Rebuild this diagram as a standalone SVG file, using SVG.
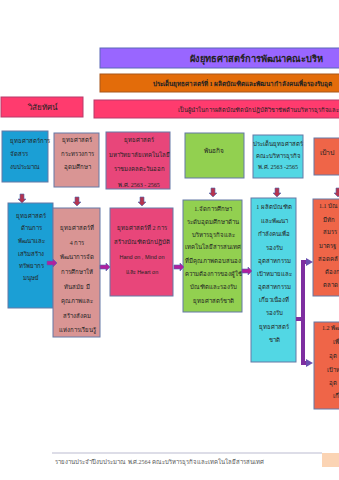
<svg xmlns="http://www.w3.org/2000/svg" width="339" height="480" viewBox="0 0 339 480">
<style>
.bx{stroke:#6478A6;stroke-width:1}
.t{font-family:"Liberation Serif","Noto Sans",serif;font-size:6px;fill:#222;text-anchor:middle}
.ts{font-family:"Liberation Serif","Noto Sans",serif;font-size:6px;fill:#222}
.dn{fill:#B5344F;stroke:#4F69B0;stroke-width:0.6}
.rt{fill:#B0209F;stroke:#4F69B0;stroke-width:0.6}
.conn{fill:none;stroke:#7E2EA0;stroke-width:4}
</style>
<defs>
<path id="da" d="M-2,0H2V5H4L0,9L-4,5H-2Z"/>
<path id="ra" d="M0,-2H6V-4L10,0L6,4V2H0Z"/>
<clipPath id="c3"><rect x="106" y="132" width="64" height="57"/></clipPath>
</defs>
<rect width="339" height="480" fill="#fff"/>

<g id="title">
<rect x="100" y="48" width="245" height="20" fill="#9966FF" stroke="#5A68B8" stroke-width="1"/>
<text class="ts" x="190" y="62" style="font-size:9.3px;font-weight:bold">ผังยุทธศาสตร์การพัฒนาคณะบริห</text>
</g>
<g id="issue">
<rect x="100" y="74" width="245" height="18" fill="#E36C0A" stroke="#A8561A" stroke-width="1"/>
<text class="ts" x="153" y="86" style="font-size:6.3px;font-weight:bold">ประเด็นยุทธศาสตร์ที่ 1  ผลิตบัณฑิตและพัฒนากำลังคนเพื่อรองรับอุต</text>
</g>
<g id="vision-label">
<rect x="1" y="97" width="82" height="20" fill="#FF3B6E" stroke="#B83A6A" stroke-width="1"/>
<text class="t" x="42" y="110" style="font-size:8px">วิสัยทัศน์</text>
</g>
<g id="vision">
<rect x="94" y="100" width="250" height="18" fill="#FF3B6E" stroke="#B83A6A" stroke-width="1"/>
<text class="ts" x="178" y="112" style="font-size:5.8px">เป็นผู้นำในการผลิตบัณฑิตนักปฏิบัติวิชาชีพด้านบริหารธุรกิจและ</text>
</g>

<g id="budget">
<rect class="bx" x="2" y="131" width="46" height="51" fill="#1B9FD5"/>
<text class="ts" x="10" y="143">ยุทธศาสตร์การ</text>
<text class="ts" x="10" y="156">จัดสรร</text>
<text class="ts" x="10" y="169">งบประมาณ</text>
</g>
<g id="ministry">
<rect class="bx" x="54" y="133" width="45" height="54" fill="#D99594"/>
<text class="t" x="77" y="142">ยุทธศาสตร์</text>
<text class="t" x="77" y="156">กระทรวงการ</text>
<text class="t" x="77" y="169">อุดมศึกษา</text>
</g>
<g id="university">
<rect class="bx" x="106" y="132" width="64" height="57" fill="#E8467A"/>
<g clip-path="url(#c3)">
<text class="t" x="139" y="142">ยุทธศาสตร์</text>
<text class="t" x="139" y="157">มหาวิทยาลัยเทคโนโลยี</text>
<text class="t" x="139" y="171">ราชมงคลตะวันออก</text>
<text class="t" x="139" y="187">พ.ศ. 2563 - 2565</text>
</g>
</g>
<g id="mission">
<rect class="bx" x="185" y="133" width="59" height="45" fill="#92D050"/>
<text class="t" x="214" y="153" style="font-size:6.5px">พันธกิจ</text>
</g>
<g id="faculty-issue">
<rect class="bx" x="253" y="135" width="50" height="43" fill="#52D7E4"/>
<text class="t" x="278" y="146">ประเด็นยุทธศาสตร์</text>
<text class="t" x="278" y="158">คณะบริหารธุรกิจ</text>
<text class="t" x="278" y="169">พ.ศ. 2563 -2565</text>
</g>
<g id="goal">
<rect class="bx" x="314" y="138" width="40" height="37" fill="#EF6548"/>
<text class="ts" x="320" y="155" style="font-size:7px">เป้าป</text>
</g>

<g id="hr">
<rect class="bx" x="8" y="203" width="45" height="105" fill="#1B9FD5"/>
<text class="t" x="31" y="218">ยุทธศาสตร์</text>
<text class="t" x="31" y="230">ด้านการ</text>
<text class="t" x="31" y="243">พัฒนาและ</text>
<text class="t" x="31" y="256">เสริมสร้าง</text>
<text class="t" x="31" y="268">ทรัพยากร</text>
<text class="t" x="31" y="280">มนุษย์</text>
</g>
<g id="strategy4">
<rect class="bx" x="53" y="208" width="47" height="129" fill="#D99594"/>
<text class="t" x="77" y="230">ยุทธศาสตร์ที่</text>
<text class="t" x="77" y="245">4 การ</text>
<text class="t" x="77" y="259">พัฒนาการจัด</text>
<text class="t" x="77" y="274">การศึกษาให้</text>
<text class="t" x="77" y="289">ทันสมัย มี</text>
<text class="t" x="77" y="303">คุณภาพและ</text>
<text class="t" x="77" y="318">สร้างสังคม</text>
<text class="t" x="77" y="332">แห่งการเรียนรู้</text>
</g>
<g id="strategy2">
<rect class="bx" x="110" y="208" width="63" height="88" fill="#E8467A"/>
<text class="t" x="142" y="230">ยุทธศาสตร์ที่ 2 การ</text>
<text class="t" x="142" y="244">สร้างบัณฑิตนักปฏิบัติ</text>
<text class="t" x="142" y="259" style="font-family:'Liberation Sans',sans-serif;font-size:5.5px">Hand on , Mind on</text>
<text class="t" x="142" y="274" style="font-size:5.5px">และ  <tspan style="font-family:'Liberation Sans',sans-serif">Heart on</tspan></text>
</g>
<g id="mission1">
<rect class="bx" x="183" y="200" width="59" height="112" fill="#92D050"/>
<text class="t" x="213" y="211">1.จัดการศึกษา</text>
<text class="t" x="213" y="224">ระดับอุดมศึกษาด้าน</text>
<text class="t" x="213" y="237">บริหารธุรกิจและ</text>
<text class="t" x="213" y="249">เทคโนโลยีสารสนเทศ</text>
<text class="t" x="213" y="263">ที่มีคุณภาพตอบสนอง</text>
<text class="t" x="213" y="276">ความต้องการของผู้ใช้</text>
<text class="t" x="213" y="289">บัณฑิตและรองรับ</text>
<text class="t" x="213" y="303">ยุทธศาสตร์ชาติ</text>
</g>
<g id="issue1">
<rect class="bx" x="251" y="198" width="45" height="164" fill="#52D7E4"/>
<text class="t" x="274" y="209">1  ผลิตบัณฑิต</text>
<text class="t" x="274" y="223">และพัฒนา</text>
<text class="t" x="274" y="236">กำลังคนเพื่อ</text>
<text class="t" x="274" y="250">รองรับ</text>
<text class="t" x="274" y="263">อุตสาหกรรม</text>
<text class="t" x="274" y="276">เป้าหมายและ</text>
<text class="t" x="274" y="289">อุตสาหกรรม</text>
<text class="t" x="274" y="302">เกี่ยวเนื่องที่</text>
<text class="t" x="274" y="315">รองรับ</text>
<text class="t" x="274" y="329">ยุทธศาสตร์</text>
<text class="t" x="274" y="342">ชาติ</text>
</g>
<g id="goal1-1">
<rect class="bx" x="313" y="199" width="45" height="97" fill="#EF6548"/>
<text class="ts" x="319" y="208">1.1 บัณ</text>
<text class="ts" x="323" y="222">มีทัก</text>
<text class="ts" x="323" y="234">สมรร</text>
<text class="ts" x="319" y="248">มาตรฐ</text>
<text class="ts" x="318" y="261">สอดคล้</text>
<text class="ts" x="325" y="274">ต้องก</text>
<text class="ts" x="323" y="287">ตลาด</text>
</g>
<g id="goal1-2">
<rect class="bx" x="314" y="322" width="45" height="87" fill="#EF6548"/>
<text class="ts" x="322" y="330">1.2 พัฒ</text>
<text class="ts" x="333" y="344">เพื่</text>
<text class="ts" x="329" y="358">อุต</text>
<text class="ts" x="327" y="372">เป้าห</text>
<text class="ts" x="329" y="385">อุต</text>
<text class="ts" x="333" y="398">เกี่</text>
</g>

<g id="connectors">
<use href="#da" class="dn" x="22" y="194"/>
<use href="#da" class="dn" x="77" y="197"/>
<use href="#da" class="dn" x="142" y="197"/>
<use href="#da" class="dn" x="213" y="188"/>
<use href="#da" class="dn" x="277" y="188"/>
<use href="#da" class="dn" x="338" y="188"/>
<use href="#ra" class="rt" x="47" y="263"/>
<use href="#ra" class="rt" x="100" y="267"/>
<use href="#ra" class="rt" x="174" y="267"/>
<use href="#ra" class="rt" x="242" y="271"/>
<path class="conn" d="M296,319H303V262H307"/>
<path class="conn" d="M303,319V363H307"/>
<path d="M306,258L313,262L306,266Z" fill="#6A4FB0"/>
<path d="M306,359L313,363L306,367Z" fill="#6A4FB0"/>
</g>

<g id="footer">
<line x1="52" y1="453" x2="322" y2="453" stroke="#A9A9C4" stroke-width="0.8"/>
<rect x="322" y="453" width="20" height="14" fill="#FBD4B4"/>
<text class="ts" x="55" y="464" style="font-size:6px;fill:#555">รายงานประจำปีงบประมาณ พ.ศ.2564  คณะบริหารธุรกิจและเทคโนโลยีสารสนเทศ</text>
</g>
</svg>
